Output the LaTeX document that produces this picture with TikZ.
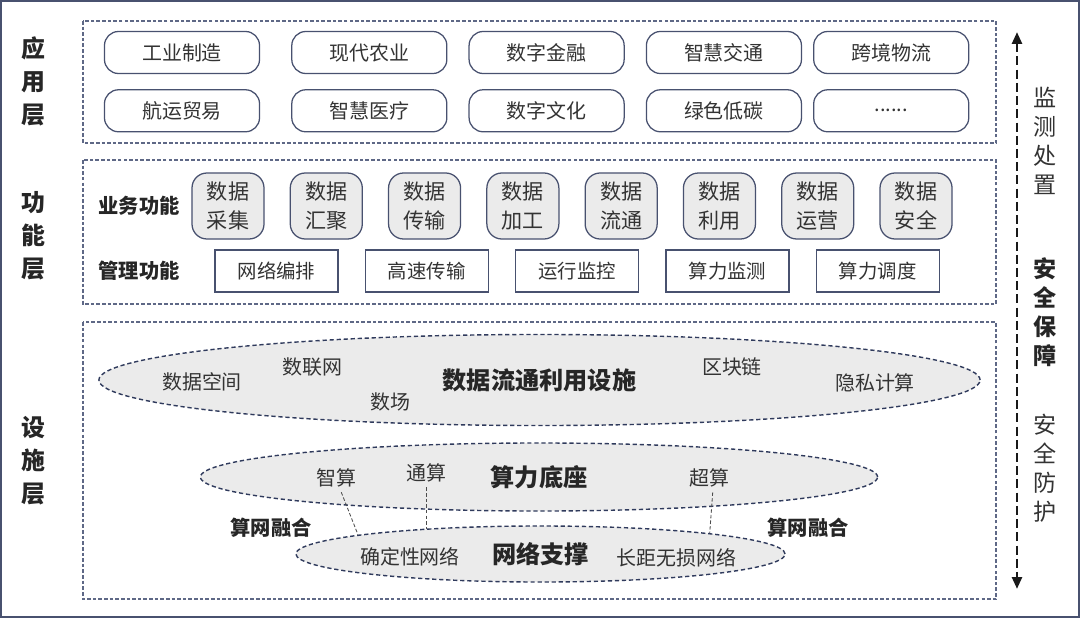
\documentclass[tikz,border=0pt]{standalone}
\usepackage{fontspec}
\setmainfont{Noto Sans CJK SC}
\usepackage{tikz}
\usetikzlibrary{arrows.meta,positioning,shapes.geometric}
\usepackage{xcolor}
\definecolor{boxline}{HTML}{48516F}
\definecolor{frameline}{HTML}{5E6886}
\definecolor{ringline}{HTML}{2F3A5C}
\definecolor{softgray}{HTML}{EBEBEB}
\definecolor{txt}{HTML}{333333}

\begin{document}
\begin{tikzpicture}[
    x=0.025cm, y=-0.025cm,
    every node/.style={text=txt},
    frame/.style={draw=frameline, line width=0.8pt, dash pattern=on 2.5pt off 1.5pt},
    pill/.style={draw=boxline, line width=0.9pt, rounded corners=0.35cm, minimum width=3.875cm, minimum height=1.05cm, font=\fontsize{14.2}{17}\selectfont},
    biz/.style={draw=boxline, fill=softgray, line width=0.9pt, rounded corners=0.375cm, minimum width=1.8cm, minimum height=1.65cm, align=center, inner sep=0pt, font=\fontsize{15}{20.6}\selectfont},
    mgmt/.style={draw=boxline, line width=0.9pt, minimum width=3.075cm, minimum height=1.05cm, font=\fontsize{13.8}{17}\selectfont},
    ring/.style={ellipse, draw=ringline, fill=softgray, line width=1pt, dash pattern=on 3pt off 2pt, inner sep=0pt, text=black!85, font=\fontsize{17.2}{20}\selectfont\bfseries},
    tag/.style={font=\fontsize{14.2}{17}\selectfont, inner sep=1pt},
    hd/.style={font=\fontsize{14.4}{17}\selectfont\bfseries, text=black!85},
    layer/.style={font=\fontsize{17}{23.5}\selectfont\bfseries, align=center, text=black!85},
    side/.style={font=\fontsize{16.4}{20.6}\selectfont, align=center},
    sidebold/.style={side, font=\fontsize{16.4}{20.6}\selectfont\bfseries, text=black!85},
    link/.style={draw=black!70, line width=0.6pt, dash pattern=on 2.5pt off 1.5pt, shorten <=2.5pt},
    updown/.style={{Triangle[width=7pt,length=8.5pt]}-{Triangle[width=7pt,length=8.5pt]}, line width=2pt, dash pattern=on 6.4pt off 3pt, draw=black!90}
]
\useasboundingbox (0,0) rectangle (1080,618);
\draw[boxline, line width=1.4pt] (1,1) rectangle (1079,617);

% layer frames
\draw[frame] (83,21) rectangle (996,143);
\draw[frame] (83,160) rectangle (996,304);
\draw[frame] (83,322) rectangle (996,599);

\node[layer] (lapp) at (33,81) {应\\用\\层};
\node[layer] (lfun) at (33,236) {功\\能\\层};
\node[layer] (lbase) at (33,461) {设\\施\\层};

% application layer
\node[pill] (a1) at (182,52.5) {工业制造};
\node[pill, right=0.775cm of a1] (a2) {现代农业};
\node[pill, right=0.525cm of a2] (a3) {数字金融};
\node[pill, right=0.525cm of a3] (a4) {智慧交通};
\node[pill, right=0.275cm of a4] (a5) {跨境物流};
\node[pill, below=0.375cm of a1] (a6) {航运贸易};
\node[pill, below=0.375cm of a2] (a7) {智慧医疗};
\node[pill, below=0.375cm of a3] (a8) {数字文化};
\node[pill, below=0.375cm of a4] (a9) {绿色低碳};
\node[pill, below=0.375cm of a5] (a10) {......};

% function layer
\node[hd] (bizhd) at (139,206) {业务功能};
\node[hd] (mgmthd) at (139,271) {管理功能};
\node[biz] (b1) at (228,206) {数据\\采集};
\node[biz, right=0.625cm of b1] (b2) {数据\\汇聚};
\node[biz, right=0.625cm of b2] (b3) {数据\\传输};
\node[biz, right=0.625cm of b3] (b4) {数据\\加工};
\node[biz, right=0.625cm of b4] (b5) {数据\\流通};
\node[biz, right=0.625cm of b5] (b6) {数据\\利用};
\node[biz, right=0.625cm of b6] (b7) {数据\\运营};
\node[biz, right=0.625cm of b7] (b8) {数据\\安全};
\node[mgmt] (m1) at (276.5,271) {网络编排};
\node[mgmt, right=0.65cm of m1] (m2) {高速传输};
\node[mgmt, right=0.65cm of m2] (m3) {运行监控};
\node[mgmt, right=0.65cm of m3] (m4) {算力监测};
\node[mgmt, right=0.65cm of m4] (m5) {算力调度};

% infrastructure layer
\node[ring, minimum width=22.025cm, minimum height=2.275cm] (flow) at (539.5,380) {数据流通利用设施};
\node[ring, minimum width=16.925cm, minimum height=1.7cm] (power) at (539,477) {算力底座};
\node[ring, minimum width=12.225cm, minimum height=1.4cm] (net) at (540.5,554) {网络支撑};

\node[tag] (space) at (202,382) {数据空间};
\node[tag] (dnet) at (312.5,367) {数联网};
\node[tag] (field) at (390,402) {数场};
\node[tag] (chain) at (732,367) {区块链};
\node[tag] (privacy) at (875,383) {隐私计算};
\node[tag] (zs) at (336,478) {智算};
\node[tag] (ts) at (426,473) {通算};
\node[tag] (cs) at (709,478) {超算};
\node[tag] (det) at (410,557) {确定性网络};
\node[tag] (far) at (676.5,558) {长距无损网络};
\node[hd] (fuse1) at (271,528) {算网融合};
\node[hd] (fuse2) at (808,528) {算网融合};

\draw[link] (zs.-70) -- (net.174.5);
\draw[link] (ts.south) -- (ts.south |- net.168);
\draw[link] (cs.-70) -- (net.7);

% security side
\coordinate (sectop) at (1017,32);
\coordinate (secbot) at (1017,589);
\draw[updown] (sectop) -- (secbot);
\node[side] (watch) at (1045,141) {监\\测\\处\\置};
\node[sidebold] (guard) at (1045,312) {安\\全\\保\\障};
\node[side] (protect) at (1045,468) {安\\全\\防\\护};
\end{tikzpicture}
\end{document}
